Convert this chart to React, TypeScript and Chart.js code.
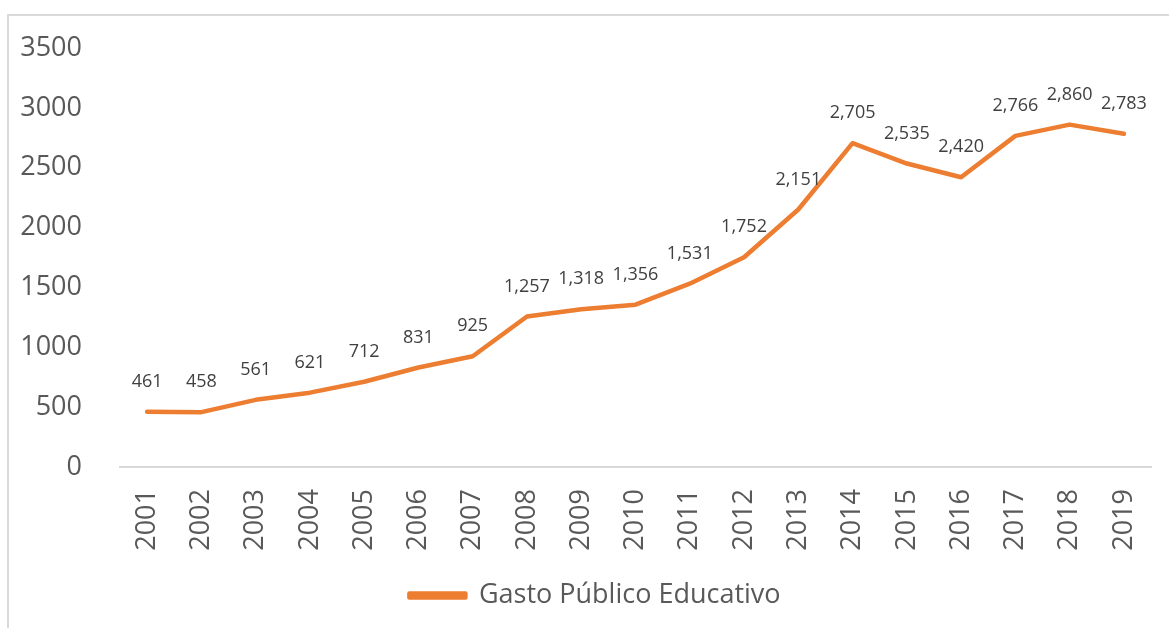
import React, { useEffect, useRef } from "react";
import { Chart, registerables } from "chart.js";

Chart.register(...registerables);

const years = ["2001","2002","2003","2004","2005","2006","2007","2008","2009","2010","2011","2012","2013","2014","2015","2016","2017","2018","2019"];
const gasto = [461, 458, 561, 621, 712, 831, 925, 1257, 1318, 1356, 1531, 1752, 2151, 2705, 2535, 2420, 2766, 2860, 2783];
const seriesName = "Gasto Público Educativo";
const yMin = 0;
const yMax = 3500;
const yStep = 500;

const FONT = "'Open Sans', 'Noto Sans', sans-serif";

const dataLabelPlugin = {
  id: "dataLabels",
  afterDatasetsDraw(chart: any) {
    const ctx = chart.ctx;
    const meta = chart.getDatasetMeta(0);
    const ds = chart.data.datasets[0];
    ctx.save();
    ctx.font = `18px ${FONT}`;
    ctx.fillStyle = "#404040";
    ctx.textAlign = "center";
    ctx.textBaseline = "middle";
    meta.data.forEach((pt: any, i: number) => {
      const v = ds.data[i] as number;
      ctx.fillText(v.toLocaleString("en-US"), pt.x, pt.y - 30);
    });
    ctx.restore();
  },
};

const legendShiftPlugin = {
  id: "legendShift",
  afterLayout(chart: any) {
    const lg = chart.legend;
    if (lg) {
      lg.left += 15;
      lg.right += 15;
    }
  },
};

export default function App() {
  const ref = useRef<HTMLCanvasElement | null>(null);
  useEffect(() => {
    document.body.style.overflow = "hidden";
    const chart = new Chart(ref.current!, {
      type: "line",
      data: {
        labels: years,
        datasets: [
          {
            label: seriesName,
            data: gasto,
            borderColor: "#ED7D31",
            backgroundColor: "#ED7D31",
            borderWidth: 4.5,
            pointRadius: 0,
            pointHoverRadius: 0,
            tension: 0,
            borderCapStyle: "round",
            borderJoinStyle: "round",
          },
        ],
      },
      options: {
        animation: false,
        responsive: true,
        maintainAspectRatio: false,
        layout: { padding: { left: 0, right: 18, top: 32, bottom: 9 } },
        plugins: {
          tooltip: { enabled: false },
          legend: {
            position: "bottom",
            labels: {
              boxWidth: 56,
              boxHeight: 4,
              color: "#595959",
              font: { family: FONT, size: 27 },
              padding: 10,
            },
          },
        },
        scales: {
          x: {
            offset: true,
            grid: { display: false },
            border: { display: true, color: "#D9D9D9", width: 2 },
            ticks: {
              minRotation: 90,
              maxRotation: 90,
              color: "#595959",
              font: { family: FONT, size: 27 },
              padding: 14,
            },
            afterFit(scale: any) {
              scale.height = 105;
              scale.paddingLeft = 0;
              scale.paddingRight = 0;
            },
          },
          y: {
            min: yMin,
            max: yMax,
            grid: { display: false },
            border: { display: false },
            ticks: {
              stepSize: yStep,
              color: "#595959",
              font: { family: FONT, size: 27 },
              padding: 30,
              callback: (v: any) => String(v),
            },
            afterFit(scale: any) {
              scale.width = 111;
              scale.paddingTop = 0;
              scale.paddingBottom = 0;
            },
          },
        },
      },
      plugins: [dataLabelPlugin, legendShiftPlugin],
    });
    return () => chart.destroy();
  }, []);

  return (
    <div
      style={{
        position: "absolute",
        left: 7,
        top: 14,
        width: 1162,
        height: 614,
        borderLeft: "2px solid #D9D9D9",
        borderTop: "2px solid #D9D9D9",
        boxSizing: "border-box",
        background: "#fff",
      }}
    >
      <div style={{ position: "relative", width: 1160, height: 612 }}>
        <canvas ref={ref} />
      </div>
    </div>
  );
}
